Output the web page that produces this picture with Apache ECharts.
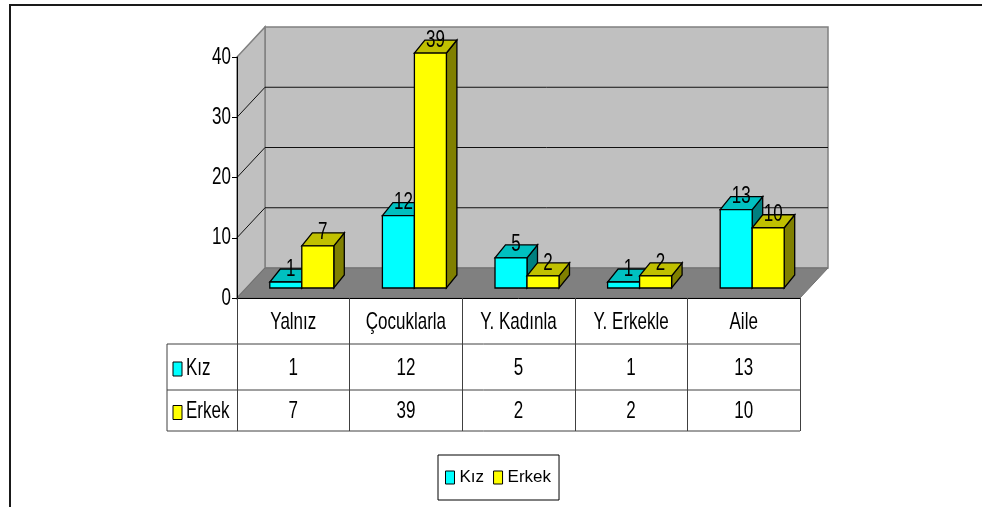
<!DOCTYPE html>
<html>
<head>
<meta charset="utf-8">
<script src="https://cdn.jsdelivr.net/npm/echarts@6/dist/echarts.min.js"></script>
<style>
  html, body { margin: 0; padding: 0; background: #fff; }
  #chart { width: 982px; height: 507px; }
</style>
</head>
<body>
<div id="chart"></div>
<script>
  // chart data
  var categories = ['Yalnız', 'Çocuklarla', 'Y. Kadınla', 'Y. Erkekle', 'Aile'];
  var kizValues = [1, 12, 5, 1, 13];
  var erkekValues = [7, 39, 2, 2, 10];
  var seriesNames = ['Kız', 'Erkek'];
  var yTicks = [0, 10, 20, 30, 40];

  var FONT = '"Liberation Sans", Arial, sans-serif';
  var TEXT_STRETCH = 1.4;      // the original font is tall and narrow
  var WALL = [28, -30];        // depth of floor / walls
  var BAR_SHIFT = [8.5, -10];  // bars sit a bit behind the front edge
  var BAR_DEPTH = [10.5, -13];
  var BAR_W = 32;
  var ROW_LINES = [46, 92, 133]; // table rows below the floor edge
  var KEY_COL = 70;

  var colors = {
    'Kız': {front: '#00FFFF', top: '#00C0C0', side: '#008080'},
    'Erkek': {front: '#FFFF00', top: '#C0C000', side: '#808000'}
  };

  function textEl(txt, x, y, align) {
    return {
      type: 'text', x: x, y: y, scaleY: TEXT_STRETCH,
      style: {text: txt, align: align || 'center', verticalAlign: 'middle',
              font: '17px ' + FONT, fill: '#000'}
    };
  }

  // walls, floor, grid lines, tick labels and the data table
  function renderDecor(params, api) {
    var cs = params.coordSys;
    var x0 = cs.x, x1 = cs.x + cs.width, yB = cs.y + cs.height, yT = cs.y;
    var dx = WALL[0], dy = WALL[1];
    var kids = [];
    kids.push({type: 'polygon',
      shape: {points: [[x0 + dx, yT + dy], [x1 + dx, yT + dy], [x1 + dx, yB + dy], [x0 + dx, yB + dy]]},
      style: {fill: '#C0C0C0', stroke: '#808080', lineWidth: 1.5}});
    kids.push({type: 'polygon',
      shape: {points: [[x0, yB], [x0 + dx, yB + dy], [x0 + dx, yT + dy], [x0, yT]]},
      style: {fill: '#C0C0C0', stroke: '#808080', lineWidth: 1.5}});
    kids.push({type: 'polygon',
      shape: {points: [[x0, yB], [x1, yB], [x1 + dx, yB + dy], [x0 + dx, yB + dy]]},
      style: {fill: '#808080', stroke: '#707070', lineWidth: 1}});
    yTicks.forEach(function (t, k) {
      var y = api.coord([0, t])[1];
      kids.push(textEl(String(t), x0 - 6, y, 'right'));
      if (k === 0 || k === yTicks.length - 1) return;
      kids.push({type: 'polyline',
        shape: {points: [[x0, y], [x0 + dx, y + dy], [x1 + dx, y + dy]]},
        style: {stroke: '#111', lineWidth: 1, fill: 'none'}});
    });
    ROW_LINES.forEach(function (off) {
      kids.push({type: 'line',
        shape: {x1: x0 - KEY_COL, y1: yB + off, x2: x1, y2: yB + off},
        style: {stroke: '#404040', lineWidth: 1}});
    });
    kids.push({type: 'line',
      shape: {x1: x0 - KEY_COL, y1: yB + ROW_LINES[0], x2: x0 - KEY_COL, y2: yB + ROW_LINES[2]},
      style: {stroke: '#404040', lineWidth: 1}});
    // header row
    categories.forEach(function (cat, i) {
      kids.push(textEl(cat, api.coord([i, 0])[0], yB + ROW_LINES[0] / 2 + 1));
    });
    // one row per series
    [kizValues, erkekValues].forEach(function (vals, k) {
      var name = seriesNames[k];
      var yc = yB + (ROW_LINES[k] + ROW_LINES[k + 1]) / 2;
      kids.push({type: 'rect',
        shape: {x: x0 - KEY_COL + 6, y: yc - 5, width: 9, height: 14},
        style: {fill: colors[name].front, stroke: '#000', lineWidth: 1}});
      kids.push(textEl(name, x0 - KEY_COL + 19, yc + 1, 'left'));
      vals.forEach(function (v, i) {
        kids.push(textEl(String(v), api.coord([i, 0])[0], yc + 1));
      });
    });
    return {type: 'group', children: kids};
  }

  // 3d looking bar: front, top, side and the value label
  function barRenderer(name, side) {
    return function (params, api) {
      var i = api.value(0), v = api.value(1);
      var base = api.coord([i, 0]);
      var top = api.coord([i, v]);
      var cx = base[0] + BAR_SHIFT[0];
      var xa = side === 0 ? cx - BAR_W : cx;
      var xb = xa + BAR_W;
      var yb = base[1] + BAR_SHIFT[1];
      var yt = top[1] + BAR_SHIFT[1];
      var ddx = BAR_DEPTH[0], ddy = BAR_DEPTH[1];
      var c = colors[name];
      return {type: 'group', children: [
        {type: 'polygon',
          shape: {points: [[xb, yt], [xb + ddx, yt + ddy], [xb + ddx, yb + ddy], [xb, yb]]},
          style: {fill: c.side, stroke: '#000', lineWidth: 1.3}},
        {type: 'polygon',
          shape: {points: [[xa, yt], [xb, yt], [xb + ddx, yt + ddy], [xa + ddx, yt + ddy]]},
          style: {fill: c.top, stroke: '#000', lineWidth: 1.3}},
        {type: 'rect',
          shape: {x: xa, y: yt, width: BAR_W, height: yb - yt},
          style: {fill: c.front, stroke: '#000', lineWidth: 1.3}},
        textEl(String(v), (xa + xb) / 2 + 5, yt - 13)
      ]};
    };
  }

  var chart = echarts.init(document.getElementById('chart'));
  var option = {
    animation: false,
    backgroundColor: '#fff',
    grid: {left: 237, top: 57, width: 563, height: 241, containLabel: false, outerBoundsMode: 'none'},
    legend: {
      data: seriesNames, left: 438, top: 455, orient: 'horizontal',
      padding: [14, 8, 14, 7], itemGap: 9, itemWidth: 9, itemHeight: 13, icon: 'rect',
      borderColor: '#000', borderWidth: 1,
      itemStyle: {borderColor: '#000', borderWidth: 1},
      textStyle: {fontSize: 17, fontFamily: FONT, color: '#000'}
    },
    xAxis: {
      type: 'category', data: categories, position: 'bottom',
      axisLine: {show: true, lineStyle: {color: '#000', width: 1}},
      axisTick: {show: true, interval: 0, length: ROW_LINES[2], lineStyle: {color: '#404040'}},
      axisLabel: {show: false},
      splitLine: {show: false}
    },
    yAxis: {
      type: 'value', min: 0, max: 40, interval: 10,
      axisLine: {show: true, lineStyle: {color: '#000', width: 1}},
      axisTick: {show: true, length: 5, lineStyle: {color: '#000'}},
      axisLabel: {show: false},
      splitLine: {show: false}
    },
    graphic: [{
      type: 'rect', z: -10, silent: true,
      shape: {x: 10, y: 5, width: 1000, height: 600},
      style: {fill: 'none', stroke: '#1a1a1a', lineWidth: 2}
    }],
    series: [
      {type: 'custom', z: -1, silent: true, renderItem: renderDecor, data: [[0, 0]]},
      {
        name: 'Kız', type: 'custom', renderItem: barRenderer('Kız', 0),
        itemStyle: {color: colors['Kız'].front},
        encode: {x: 0, y: 1},
        data: kizValues.map(function (v, i) { return [i, v]; })
      },
      {
        name: 'Erkek', type: 'custom', renderItem: barRenderer('Erkek', 1),
        itemStyle: {color: colors['Erkek'].front},
        encode: {x: 0, y: 1},
        data: erkekValues.map(function (v, i) { return [i, v]; })
      }
    ]
  };
  chart.setOption(option);
</script>
</body>
</html>
